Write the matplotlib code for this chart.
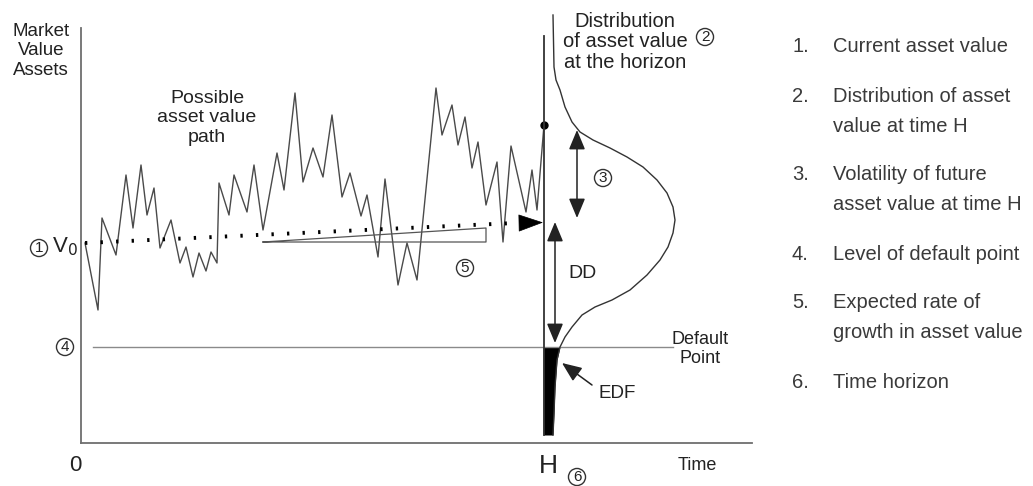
import matplotlib.pyplot as plt

plt.rcParams['font.family'] = ['Liberation Sans', 'DejaVu Sans']

# diagram units: time counted from the value axis, value counted up from the time axis
H = 463
V0 = 200
DEFAULT_PT = 96
T_END = 671
V_TOP = 415

# possible asset value path
path_t = [4, 17, 21, 35, 45, 52, 60, 66, 73, 79, 90, 99, 105, 112, 118, 125, 130, 136,
          138, 148, 153, 166, 173, 182, 196, 203, 214, 222, 232, 242, 251, 261, 269, 280,
          286, 297, 304, 317, 326, 336, 355, 361, 371, 377, 384, 391, 397, 405, 416, 422,
          430, 445, 451, 456, 463]
path_v = [200, 133, 225, 188, 268, 215, 278, 228, 255, 195, 223, 180, 196, 166, 190, 172, 191, 180,
          260, 228, 268, 231, 278, 213, 290, 253, 350, 261, 295, 266, 328, 246, 270, 227,
          248, 186, 264, 158, 200, 163, 355, 308, 338, 298, 326, 275, 301, 238, 281, 201,
          297, 231, 273, 233, 318]

# expected growth (dotted trend) and the growth triangle
trend_t = [4, 434]
trend_v = [200, 220]
growth_t = [182, 405, 405, 182]
growth_v = [201, 215, 201, 201]

# distribution of asset value at the horizon: width right of H at each value
dist_w = [9, 10, 12, 16, 21, 28, 36, 49, 66, 83, 99, 113, 123, 129, 131, 129, 124, 116,
          103, 86, 68, 51, 38, 28, 21, 17, 16, 13, 11, 10, 9]
dist_v = [428, 376, 363, 353, 336, 321, 311, 303, 295, 286, 276, 263, 250, 236, 223, 210, 196, 183,
          168, 153, 143, 136, 128, 116, 106, 98, 96, 83, 56, 30, 8]
MEAN_V = 223

note_nums = ['1.', '2.', '3.', '4.', '5.', '6.']
note_lines = [
    ['Current asset value'],
    ['Distribution of asset', 'value at time H'],
    ['Volatility of future', 'asset value at time H'],
    ['Level of default point'],
    ['Expected rate of', 'growth in asset value'],
    ['Time horizon'],
]

fig = plt.figure(figsize=(10.33, 4.86), dpi=100)
ax = fig.add_axes([0, 0, 1, 1])
ax.set_xlim(-81, 1033 - 81)
ax.set_ylim(443 - 486, 443)
ax.axis('off')

ink = '#222222'
axis_col = '#6e6e6e'

# axes
ax.plot([0, 0], [0, V_TOP], color=axis_col, lw=1.3)
ax.plot([0, T_END], [0, 0], color=axis_col, lw=1.3)
ax.plot([12, 592], [DEFAULT_PT, DEFAULT_PT], color='#8a8a8a', lw=1.0)

# path
ax.plot(path_t, path_v, color='#4a4a4a', lw=1.0)
ax.plot(path_t[-1], path_v[-1], 'o', color='black', ms=5)

# trend with arrow
ax.plot(trend_t, trend_v, color='black', lw=2.8, dashes=[0.6, 3.4])
ax.annotate('', xy=(H - 1, 220.5), xytext=(H - 24, 220),
            arrowprops=dict(arrowstyle='-|>,head_length=16.5,head_width=5.8', mutation_scale=1,
                            color='black', lw=0.5, shrinkA=0, shrinkB=0))
ax.plot(growth_t, growth_v, color='#555555', lw=0.9)

# horizon line and distribution
ax.plot([H, H], [8, 407], color='#333333', lw=1.3)
ax.plot([H + w for w in dist_w], dist_v, color='#333333', lw=1.0)
low_v = [v for v in dist_v if v <= DEFAULT_PT]
low_x = [H + w for w, v in zip(dist_w, dist_v) if v <= DEFAULT_PT]
ax.fill_betweenx(low_v, H - 1, low_x, color='black', lw=0)

# volatility and distance-to-default arrows
arr = dict(arrowstyle='<|-|>,head_length=12,head_width=5', mutation_scale=1,
           color=ink, lw=1.1, shrinkA=0, shrinkB=0)
ax.annotate('', xy=(496, 225), xytext=(496, 313), arrowprops=arr)
ax.annotate('', xy=(474, 100), xytext=(474, 221), arrowprops=arr)
ax.annotate('', xy=(481, 80), xytext=(511, 58),
            arrowprops=dict(arrowstyle='-|>,head_length=12,head_width=5', mutation_scale=1,
                            color=ink, lw=1.1, shrinkA=0, shrinkB=0))

# labels
ax.text(-40, 392, 'Market\nValue\nAssets', ha='center', va='center', fontsize=13.5,
        linespacing=1.2, color=ink)
ax.text(126, 325, 'Possible\nasset value\npath', ha='center', va='center', fontsize=14,
        linespacing=1.2, color=ink)
ax.text(544, 401, 'Distribution\nof asset value\nat the horizon', ha='center', va='center',
        fontsize=14.5, linespacing=1.08, color=ink)
ax.text(619, 94, 'Default\nPoint', ha='center', va='center', fontsize=13,
        linespacing=1.1, color=ink)
ax.text(502, 170, 'DD', ha='center', va='center', fontsize=14, color=ink)
ax.text(536, 50, 'EDF', ha='center', va='center', fontsize=13.5, color=ink)
ax.text(-6, -22, '0', ha='center', va='center', fontsize=16, color=ink)
ax.text(467, -23, 'H', ha='center', va='center', fontsize=19, color=ink)
ax.text(616, -22, 'Time', ha='center', va='center', fontsize=13, color=ink)
ax.text(-16, 196, 'V$_{0}$', ha='center', va='center', fontsize=16, color=ink)

circ = dict(boxstyle='circle,pad=0.1', fc='none', ec='#333333', lw=1.0)
for num, t, v in [('1', -42, 195), ('2', 624, 406), ('3', 522, 265), ('4', -16, 96),
                  ('5', 384, 175), ('6', 496, -34)]:
    ax.text(t, v, num, ha='center', va='center', fontsize=11, color=ink, bbox=circ)

# numbered notes on the right
note_col = '#3a3a3a'
y = 47
for num, lines in zip(note_nums, note_lines):
    ax.text(792 - 81, 443 - y, num, ha='left', va='center', fontsize=14.5, color=note_col)
    for i, line in enumerate(lines):
        ax.text(833 - 81, 443 - (y + 30 * i), line, ha='left', va='center',
                fontsize=14.5, color=note_col)
    y += 30 * len(lines) + 19

fig.savefig('out.png', dpi=100)
